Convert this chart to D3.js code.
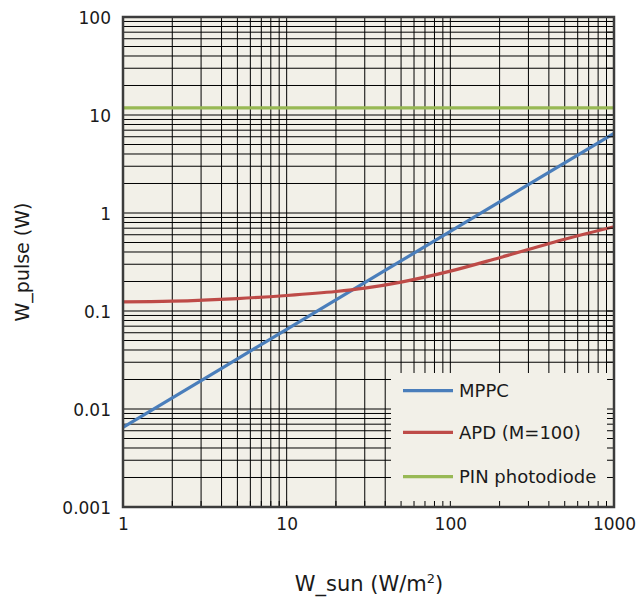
<!DOCTYPE html>
<html>
<head>
<meta charset="utf-8">
<script src="https://cdn.jsdelivr.net/npm/d3@7"></script>
<style>
  html, body { margin: 0; padding: 0; background: #ffffff; }
  svg { display: block; }
  text { font-family: "DejaVu Sans", sans-serif; fill: #1a1a1a; }
</style>
</head>
<body>
<svg id="chart" width="640" height="599"></svg>
<script>
// ---- data ----
const xTickValues = [1, 10, 100, 1000];
const xTickLabels = ["1", "10", "100", "1000"];
const yTickValues = [0.001, 0.01, 0.1, 1, 10, 100];
const yTickLabels = ["0.001", "0.01", "0.1", "1", "10", "100"];

const seriesNames = ["MPPC", "APD (M=100)", "PIN photodiode"];
const mppcX = [1, 10, 100, 1000];
const mppcY = [0.0065, 0.065, 0.65, 6.5];
const apdX = [1, 2, 5, 10, 20, 30, 50, 100, 200, 500, 1000];
const apdY = [0.124, 0.126, 0.134, 0.144, 0.158, 0.171, 0.197, 0.255, 0.35, 0.54, 0.725];
const pinX = [1, 1000];
const pinY = [11.8, 11.8];

const xTitle = "W_sun (W/m";
const xTitleSup = "2";
const yTitle = "W_pulse (W)";

// ---- layout ----
const colors = ["#4a7ebb", "#be4b48", "#98b954"];
const L = 123, R = 614, T = 17, B = 507;
const FONT = '"DejaVu Sans", sans-serif';

const svg = d3.select("#chart");
const x = d3.scaleLog().domain([1, 1000]).range([L, R]);
const y = d3.scaleLog().domain([0.001, 100]).range([B, T]);

// background
svg.append("rect").attr("x", L).attr("y", T).attr("width", R - L).attr("height", B - T)
  .attr("fill", "#f2f0e8");

function logValues(lo, hi) {
  const out = [];
  for (let d = lo; d < hi * 0.999; d *= 10) {
    for (let k = 1; k <= 9; k++) out.push(d * k);
  }
  out.push(hi);
  return out;
}
const xGrid = logValues(1, 1000);
const yGrid = logValues(0.001, 100);

const grid = svg.append("g");
grid.selectAll("line.vx").data(xGrid).join("line")
  .attr("x1", d => x(d)).attr("x2", d => x(d))
  .attr("y1", T).attr("y2", B)
  .attr("stroke", "#000").attr("stroke-width", 1);
grid.selectAll("line.hy").data(yGrid).join("line")
  .attr("x1", L).attr("x2", R)
  .attr("y1", d => y(d)).attr("y2", d => y(d))
  .attr("stroke", "#000").attr("stroke-width", 1);

// series
const line = d3.line().x(d => x(d[0])).y(d => y(d[1])).curve(d3.curveCatmullRom.alpha(0.5));
const series = [
  d3.zip(mppcX, mppcY),
  d3.zip(apdX, apdY),
  d3.zip(pinX, pinY)
];
const clip = svg.append("clipPath").attr("id", "pclip");
clip.append("rect").attr("x", L).attr("y", T).attr("width", R - L).attr("height", B - T);
const lines = svg.append("g").attr("clip-path", "url(#pclip)");
series.forEach((s, i) => {
  lines.append("path").datum(s).attr("d", line)
    .attr("fill", "none").attr("stroke", colors[i]).attr("stroke-width", 3.2);
});

// legend box (covers grid)
const lgX = 391, lgY = 373;
svg.append("rect").attr("x", lgX).attr("y", lgY).attr("width", R - lgX).attr("height", B - lgY)
  .attr("fill", "#f2f0e8");
const lgRows = [390.7, 432.3, 476.7];
seriesNames.forEach((name, i) => {
  svg.append("line").attr("x1", 403).attr("x2", 453).attr("y1", lgRows[i]).attr("y2", lgRows[i])
    .attr("stroke", colors[i]).attr("stroke-width", 3.2);
  svg.append("text").attr("x", 459).attr("y", lgRows[i]).attr("dy", "0.36em")
    .attr("font-size", 18).text(name);
});

// inward ticks (visible over legend)
const ticks = svg.append("g");
ticks.selectAll("line.bt").data(xGrid).join("line")
  .attr("x1", d => x(d)).attr("x2", d => x(d))
  .attr("y1", B).attr("y2", B - 6)
  .attr("stroke", "#000").attr("stroke-width", 1);
ticks.selectAll("line.rt").data(yGrid).join("line")
  .attr("x1", R).attr("x2", R - 7)
  .attr("y1", d => y(d)).attr("y2", d => y(d))
  .attr("stroke", "#000").attr("stroke-width", 1);

// frame
svg.append("rect").attr("x", L).attr("y", T).attr("width", R - L).attr("height", B - T)
  .attr("fill", "none").attr("stroke", "#3c3c3c").attr("stroke-width", 2.5);

// axis labels
const xAxis = d3.axisBottom(x).tickValues(xTickValues).tickFormat((d, i) => xTickLabels[i]).tickSize(0).tickPadding(0);
const gx = svg.append("g").attr("transform", `translate(0,${B})`).call(xAxis);
gx.select(".domain").remove();
gx.selectAll("text").attr("y", 11).attr("dy", "0.71em").attr("font-size", 17)
  .style("font-family", FONT).attr("fill", "#1a1a1a");

const yAxis = d3.axisLeft(y).tickValues(yTickValues).tickFormat((d, i) => yTickLabels[i]).tickSize(0).tickPadding(0);
const gy = svg.append("g").attr("transform", `translate(${L},0)`).call(yAxis);
gy.select(".domain").remove();
gy.selectAll("text").attr("x", -12).attr("dy", "0.36em").attr("font-size", 17)
  .style("font-family", FONT).attr("fill", "#1a1a1a");

// titles
const xt = svg.append("text").attr("x", 369).attr("y", 591).attr("text-anchor", "middle").attr("font-size", 21);
xt.append("tspan").text(xTitle);
xt.append("tspan").attr("font-size", 13).attr("dy", -8).text(xTitleSup);
xt.append("tspan").attr("dy", 8).text(")");

svg.append("text").attr("transform", "translate(29,262) rotate(-90)")
  .attr("text-anchor", "middle").attr("font-size", 19).text(yTitle);
</script>
</body>
</html>
